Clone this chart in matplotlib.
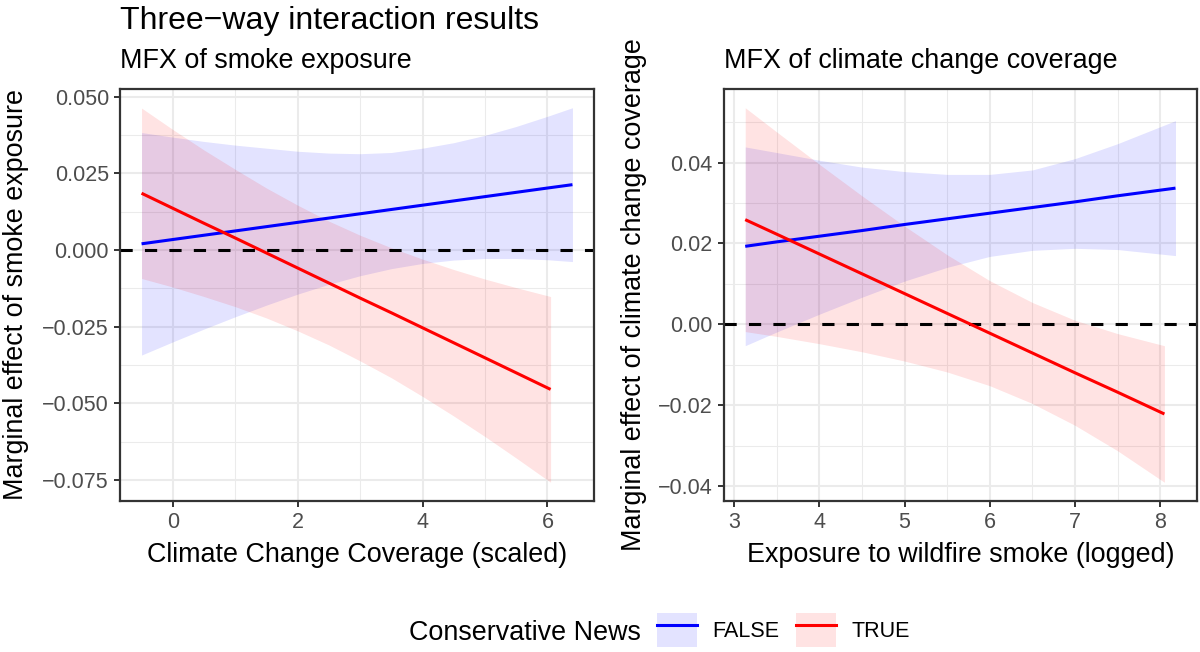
#!/usr/bin/env python3
"""
Three-way interaction plot: marginal effects of smoke exposure and of
climate change coverage, split by conservative news use.
"""

import matplotlib
matplotlib.use('Agg')
import matplotlib.pyplot as plt
from matplotlib.patches import Patch
from matplotlib.lines import Line2D
from matplotlib.ticker import MultipleLocator, AutoMinorLocator, FuncFormatter

# Panel 1: MFX of smoke exposure over climate change coverage (scaled)
smoke_x_false = [-0.5, 0.0, 0.5, 1.0, 1.5, 2.0, 2.5, 3.0, 3.5, 4.0, 4.5, 5.0, 5.5, 6.0, 6.4]
smoke_fit_false = [0.0020, 0.0034, 0.0048, 0.0062, 0.0076, 0.0090, 0.0104, 0.0118,
                   0.0132, 0.0146, 0.0160, 0.0174, 0.0188, 0.0202, 0.0213]
smoke_lo_false = [-0.0343, -0.0300, -0.0258, -0.0218, -0.0180, -0.0144, -0.0112, -0.0084,
                  -0.0061, -0.0044, -0.0033, -0.0028, -0.0028, -0.0032, -0.0038]
smoke_hi_false = [0.0383, 0.0368, 0.0354, 0.0342, 0.0332, 0.0322, 0.0316, 0.0314,
                  0.0318, 0.0332, 0.0350, 0.0374, 0.0403, 0.0436, 0.0464]

smoke_x_true = [-0.5, 0.0, 0.5, 1.0, 1.5, 2.0, 2.5, 3.0, 3.5, 4.0, 4.5, 5.0, 5.5, 6.05]
smoke_fit_true = [0.0185, 0.0136, 0.0087, 0.0039, -0.0010, -0.0059, -0.0108,
                  -0.0157, -0.0205, -0.0254, -0.0303, -0.0352, -0.0401, -0.0455]
smoke_lo_true = [-0.0093, -0.0121, -0.0152, -0.0185, -0.0222, -0.0264, -0.0310,
                 -0.0362, -0.0417, -0.0478, -0.0542, -0.0609, -0.0679, -0.0758]
smoke_hi_true = [0.0463, 0.0393, 0.0326, 0.0263, 0.0202, 0.0146, 0.0094,
                 0.0048, 0.0007, -0.0030, -0.0064, -0.0095, -0.0123, -0.0152]

# Panel 2: MFX of climate change coverage over smoke exposure (logged)
cov_x_false = [3.13, 3.5, 4.0, 4.5, 5.0, 5.5, 6.0, 6.5, 7.0, 7.5, 8.18]
cov_fit_false = [0.0193, 0.0204, 0.0218, 0.0232, 0.0247, 0.0261, 0.0275, 0.0289, 0.0303, 0.0318, 0.0337]
cov_lo_false = [-0.0053, -0.0019, 0.0025, 0.0067, 0.0107, 0.0141, 0.0168, 0.0183, 0.0188, 0.0185, 0.0170]
cov_hi_false = [0.0439, 0.0425, 0.0406, 0.0389, 0.0378, 0.0371, 0.0371, 0.0382, 0.0410, 0.0447, 0.0504]

cov_x_true = [3.13, 3.5, 4.0, 4.5, 5.0, 5.5, 6.0, 6.5, 7.0, 7.5, 8.05]
cov_fit_true = [0.0259, 0.0223, 0.0174, 0.0125, 0.0076, 0.0027, -0.0022, -0.0071, -0.0120, -0.0168, -0.0222]
cov_lo_true = [-0.0018, -0.0030, -0.0048, -0.0068, -0.0091, -0.0118, -0.0152, -0.0196, -0.0250, -0.0313, -0.0391]
cov_hi_true = [0.0536, 0.0476, 0.0396, 0.0318, 0.0243, 0.0172, 0.0108, 0.0054, 0.0010, -0.0023, -0.0053]

group_labels = ['FALSE', 'TRUE']
group_colors = ['#0000FF', '#FF0000']
RIBBON_ALPHA = 0.11

plt.rcParams['font.family'] = ['Liberation Sans', 'DejaVu Sans']

GRID = '#EBEBEB'
DARK = '#333333'
TICK_TXT = '#4D4D4D'


def minus_fmt(decimals):
    def fmt(v, pos):
        s = f'{v:.{decimals}f}'
        if float(s) == 0:
            s = f'{0:.{decimals}f}'
        return s.replace('-', '\u2212')
    return FuncFormatter(fmt)


def style_axis(ax, x_major, y_major, y_decimals):
    ax.set_facecolor('white')
    ax.set_axisbelow(True)
    ax.margins(x=0.05, y=0.05)
    ax.xaxis.set_major_locator(MultipleLocator(x_major))
    ax.yaxis.set_major_locator(MultipleLocator(y_major))
    ax.xaxis.set_minor_locator(AutoMinorLocator(2))
    ax.yaxis.set_minor_locator(AutoMinorLocator(2))
    ax.xaxis.set_major_formatter(FuncFormatter(lambda v, p: f'{v:.0f}'))
    ax.yaxis.set_major_formatter(minus_fmt(y_decimals))
    ax.grid(True, which='major', color=GRID, linewidth=1.5)
    ax.grid(True, which='minor', color=GRID, linewidth=0.75)
    ax.tick_params(which='major', length=4.5, width=1.4, color=DARK,
                   labelsize=15.5, labelcolor=TICK_TXT, pad=3.5)
    ax.tick_params(which='minor', length=0)
    for sp in ax.spines.values():
        sp.set_color(DARK)
        sp.set_linewidth(1.6)


def draw_panel(ax, series):
    for (x, fit, lo, hi), color in zip(series, group_colors):
        ax.fill_between(x, lo, hi, color=color, alpha=RIBBON_ALPHA, linewidth=0, zorder=1)
    ax.axhline(0, color='black', linestyle=(0, (4, 4)), linewidth=2.2, zorder=2)
    for (x, fit, lo, hi), color in zip(series, group_colors):
        ax.plot(x, fit, color=color, linewidth=2.2, zorder=3, solid_capstyle='butt')


def main():
    fig = plt.figure(figsize=(12, 6.52), dpi=100)
    W, H = 1200.0, 652.0

    ax1 = fig.add_axes([120 / W, 1 - 501 / H, 474 / W, 412 / H])
    ax2 = fig.add_axes([723.7 / W, 1 - 501 / H, 473.3 / W, 412 / H])

    draw_panel(ax1, [(smoke_x_false, smoke_fit_false, smoke_lo_false, smoke_hi_false),
                     (smoke_x_true, smoke_fit_true, smoke_lo_true, smoke_hi_true)])
    style_axis(ax1, 2, 0.025, 3)

    draw_panel(ax2, [(cov_x_false, cov_fit_false, cov_lo_false, cov_hi_false),
                     (cov_x_true, cov_fit_true, cov_lo_true, cov_hi_true)])
    style_axis(ax2, 1, 0.02, 2)

    # titles and axis labels
    fig.text(120 / W, 1 - 28.5 / H, 'Three\u2212way interaction results',
             fontsize=23, ha='left', va='baseline')
    fig.text(120 / W, 1 - 67.5 / H, 'MFX of smoke exposure',
             fontsize=19.4, ha='left', va='baseline')
    fig.text(723.7 / W, 1 - 67.5 / H, 'MFX of climate change coverage',
             fontsize=19.4, ha='left', va='baseline')

    fig.text(357 / W, 1 - 561.5 / H, 'Climate Change Coverage (scaled)',
             fontsize=19.4, ha='center', va='baseline')
    fig.text(960.5 / W, 1 - 561.5 / H, 'Exposure to wildfire smoke (logged)',
             fontsize=19.4, ha='center', va='baseline')

    fig.text(23.5 / W, 1 - 295 / H, 'Marginal effect of smoke exposure',
             fontsize=19.4, rotation=90, rotation_mode='anchor',
             ha='center', va='baseline')
    fig.text(641 / W, 1 - 295 / H, 'Marginal effect of climate change coverage',
             fontsize=19.4, rotation=90, rotation_mode='anchor',
             ha='center', va='baseline')

    # legend at the bottom
    handles = [(Patch(facecolor=c, alpha=RIBBON_ALPHA, linewidth=0),
                Line2D([], [], color=c, linewidth=2.2))
               for c in group_colors]
    fig.text(641 / W, 1 - 639.5 / H, 'Conservative News', fontsize=19.4,
             ha='right', va='baseline')
    fig.legend(handles, group_labels, loc='center left',
               bbox_to_anchor=(657 / W, 1 - 630 / H), ncol=2, frameon=False,
               fontsize=15.5, handlelength=1.85, handleheight=2.1,
               handletextpad=0.7, columnspacing=0.8, borderpad=0,
               borderaxespad=0)

    fig.savefig('out.png', dpi=100, facecolor='white')
    plt.close(fig)


if __name__ == '__main__':
    main()
